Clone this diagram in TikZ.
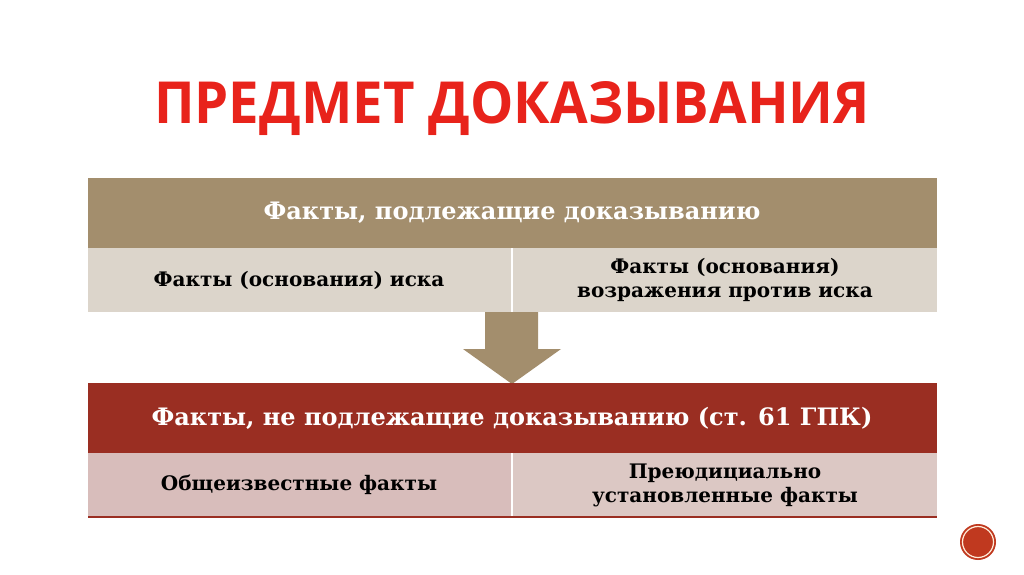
\documentclass[tikz,border=0pt]{standalone}
\usepackage{fontspec}
\setmainfont{DejaVu Serif}
\newfontfamily\titlefont{Open Sans}
\definecolor{tan}{HTML}{A38E6D}
\definecolor{beige}{HTML}{DCD5CB}
\definecolor{darkred}{HTML}{9A2E22}
\definecolor{pink}{HTML}{D8BDBB}
\definecolor{pink2}{HTML}{DCC8C4}
\definecolor{titlered}{HTML}{E8231B}
\definecolor{circ}{HTML}{C0391F}
\begin{document}
\begin{tikzpicture}[x=1pt,y=-1pt,
  cell/.style={font=\bfseries\fontsize{20}{24}\selectfont,align=center,text=black},
  head/.style={font=\bfseries\fontsize{24}{28}\selectfont,text=white}]
\useasboundingbox (0,0) rectangle (1024,574);
\node[font=\titlefont\bfseries\fontsize{58}{60}\selectfont,text=titlered,xscale=0.94] (title) at (512,108) {ПРЕДМЕТ ДОКАЗЫВАНИЯ};
% top table
\fill[tan] (88,178) rectangle (937,248);
\node[head] (h1) at (512,213) {Факты, подлежащие доказыванию};
\fill[beige] (88,248) rectangle (511,312);
\fill[beige] (513,248) rectangle (937,312);
\node[cell] (a1) at (299,280) {Факты (основания) иска};
\node[cell] (a2) at (725,280) {Факты (основания)\\возражения против иска};
% arrow
\fill[tan] (485,312) -- (538,312) -- (538,349) -- (561,349) -- (512,384) -- (463,349) -- (485,349) -- cycle;
% bottom table
\fill[darkred] (88,383) rectangle (937,453);
\node[head] (h2) at (512,418) {Факты, не подлежащие доказыванию (ст. 61 ГПК)};
\fill[pink] (88,453) rectangle (511,516);
\fill[pink2] (513,453) rectangle (937,516);
\draw[darkred,line width=1.5] (88,517) -- (937,517);
\node[cell] (b1) at (299,485) {Общеизвестные факты};
\node[cell] (b2) at (725,485) {Преюдициально\\установленные факты};
% circle
\fill[circ] (978,542) circle (18);
\draw[white!85!orange,line width=1.2] (978,542) circle (15.5);
\end{tikzpicture}
\end{document}
